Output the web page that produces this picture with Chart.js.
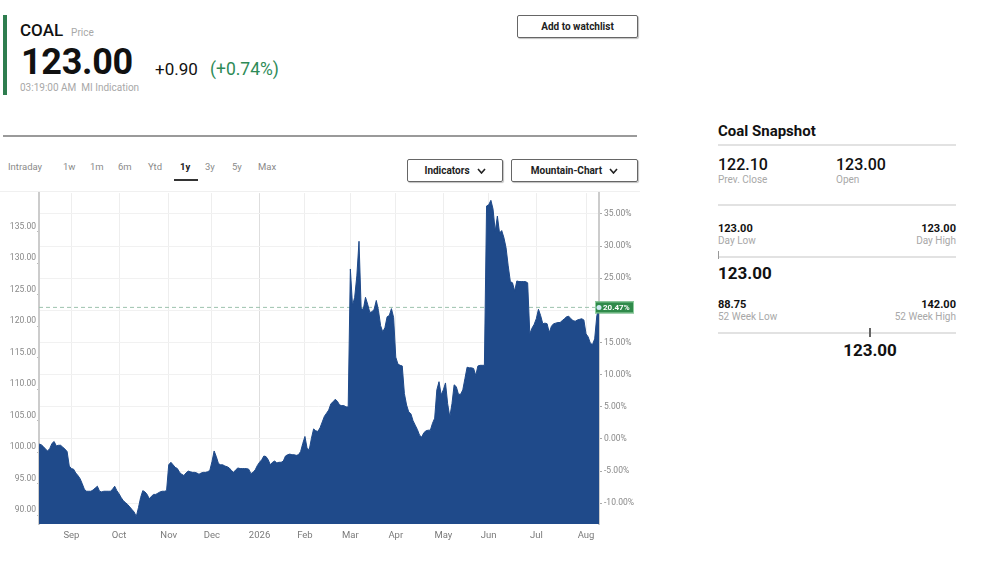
<!DOCTYPE html>
<html>
<head>
<meta charset="utf-8">
<script src="https://cdn.jsdelivr.net/npm/chart.js@4.4.1/dist/chart.umd.min.js"></script>
<style>
  body { margin: 0; background: #fff; font-family: Roboto, "Noto Sans", sans-serif; color: #111; }
  #page { position: relative; width: 995px; height: 572px; overflow: hidden; }
  .abs { position: absolute; white-space: nowrap; }
  .gray { color: #a8a8a8; }
  .btn { position: absolute; box-sizing: border-box; border: 1px solid #666; border-radius: 2px;
         box-shadow: 1px 1px 1px rgba(0,0,0,0.25); font-size: 10px; font-weight: 700; color: #222;
         display: flex; align-items: center; justify-content: center; }
  .btn svg { margin-left: 7px; }
  .tab { position: absolute; top: 161px; font-size: 9.5px; line-height: 12px; color: #8a8a8a; }
  .rule { position: absolute; background: #e2e2e2; height: 2px; }
  .num { font-size: 16px; line-height: 18px; font-weight: 500; }
  .small { font-size: 11px; line-height: 12px; font-weight: 700; }
  .lbl { font-size: 10px; line-height: 12px; color: #a8a8a8; }
  #chartBox { position: absolute; left: 0; top: 186px; width: 640px; height: 364px; }
</style>
</head>
<body>
<div id="page">
  <!-- header -->
  <div class="abs" style="left:3px;top:15px;width:4px;height:80px;background:#2e7d4f"></div>
  <div class="abs" style="left:20px;top:21px;font-size:17px;line-height:18px;font-weight:500">COAL<span class="gray" style="font-size:10px;font-weight:400;margin-left:8px">Price</span></div>
  <div class="abs" style="left:21px;top:44px;font-size:36px;line-height:36px;font-weight:700;letter-spacing:-0.3px">123.00</div>
  <div class="abs" style="left:155px;top:60px;font-size:17px;line-height:18px">+0.90</div>
  <div class="abs" style="left:210px;top:60px;font-size:17.5px;line-height:18px;color:#2e8b57">(+0.74%)</div>
  <div class="abs gray" style="left:20px;top:82px;font-size:10px;line-height:12px">03:19:00 AM&nbsp;&nbsp;MI Indication</div>
  <div class="btn" style="left:517px;top:15px;width:121px;height:23px">Add to watchlist</div>
  <div class="abs" style="left:3px;top:135px;width:634px;height:2px;background:#9a9a9a"></div>

  <!-- range tabs -->
  <div class="tab" style="left:8px">Intraday</div>
  <div class="tab" style="left:63px">1w</div>
  <div class="tab" style="left:90px">1m</div>
  <div class="tab" style="left:118px">6m</div>
  <div class="tab" style="left:148px">Ytd</div>
  <div class="tab" style="left:180px;color:#222;font-weight:700">1y</div>
  <div class="tab" style="left:205px">3y</div>
  <div class="tab" style="left:232px">5y</div>
  <div class="tab" style="left:258px">Max</div>
  <div class="abs" style="left:174px;top:179px;width:24px;height:2px;background:#333"></div>
  <div class="btn" style="left:407px;top:159px;width:96px;height:23px">Indicators<svg width="9" height="6" viewBox="0 0 9 6"><polyline points="1,1 4.5,5 8,1" fill="none" stroke="#222" stroke-width="1.6"/></svg></div>
  <div class="btn" style="left:511px;top:159px;width:127px;height:23px">Mountain-Chart<svg width="9" height="6" viewBox="0 0 9 6"><polyline points="1,1 4.5,5 8,1" fill="none" stroke="#222" stroke-width="1.6"/></svg></div>

  <!-- snapshot -->
  <div class="abs" style="left:718px;top:122px;font-size:15px;line-height:18px;font-weight:700">Coal Snapshot</div>
  <div class="rule" style="left:718px;top:144px;width:238px"></div>
  <div class="abs num" style="left:718px;top:156px">122.10</div>
  <div class="abs lbl" style="left:718px;top:174px">Prev. Close</div>
  <div class="abs num" style="left:836px;top:156px">123.00</div>
  <div class="abs lbl" style="left:836px;top:174px">Open</div>
  <div class="rule" style="left:718px;top:204px;width:238px"></div>
  <div class="abs small" style="left:718px;top:223px">123.00</div>
  <div class="abs lbl" style="left:718px;top:235px">Day Low</div>
  <div class="abs small" style="right:39px;top:223px">123.00</div>
  <div class="abs lbl" style="right:39px;top:235px">Day High</div>
  <div class="rule" style="left:718px;top:256px;width:238px"></div>
  <div class="abs" style="left:718px;top:251px;width:1px;height:8px;background:#999"></div>
  <div class="abs" style="left:718px;top:264px;font-size:17px;line-height:18px;font-weight:700">123.00</div>
  <div class="abs small" style="left:718px;top:299px">88.75</div>
  <div class="abs lbl" style="left:718px;top:311px">52 Week Low</div>
  <div class="abs small" style="right:39px;top:299px">142.00</div>
  <div class="abs lbl" style="right:39px;top:311px">52 Week High</div>
  <div class="rule" style="left:718px;top:332px;width:238px"></div>
  <div class="abs" style="left:869px;top:328px;width:2px;height:9px;background:#666"></div>
  <div class="abs" style="left:820px;top:341px;width:100px;text-align:center;font-size:17px;line-height:18px;font-weight:700">123.00</div>

  <div class="abs" style="left:0;top:191px;width:640px;height:1px;background:#f0f0f0"></div>
  <div id="chartBox"><canvas id="coalChart"></canvas></div>
</div>

<script>
// month groups (first group is the tail of Aug 2025, unlabelled)
var months = ['', 'Sep', 'Oct', 'Nov', 'Dec', '2026', 'Feb', 'Mar', 'Apr', 'May', 'Jun', 'Jul', 'Aug'];

// daily closes, per month
var aug25 = [101.3, 101.2, 100.9, 100.5, 100.2, 100.6, 101.4, 101.7, 101.0, 101.1, 101.1, 100.8, 100.5, 100.1, 97.8];
var sep25 = [97.4, 97.3, 96.7, 96.3, 95.8, 95.0, 94.1, 93.8, 93.8, 93.8, 94.0, 94.3, 94.6, 93.8, 93.7, 93.8, 93.8, 93.8, 93.8, 94.1, 94.6, 93.9];
var oct25 = [93.4, 92.8, 92.3, 92.0, 91.7, 91.3, 90.9, 90.5, 89.8, 91.2, 92.8, 93.9, 93.7, 93.3, 92.6, 93.0, 93.3, 93.3, 93.5, 93.7, 93.8, 93.8, 93.9];
var nov25 = [98.0, 98.4, 98.0, 97.6, 97.4, 96.8, 96.5, 96.3, 96.7, 97.0, 96.9, 96.8, 96.8, 96.7, 96.5, 96.7, 96.8, 96.8, 96.9, 97.1];
var dec25 = [98.5, 100.2, 99.3, 98.2, 98.0, 98.0, 97.8, 97.7, 97.5, 97.1, 96.8, 97.2, 97.5, 97.4, 97.4, 97.4, 97.4, 97.3, 96.6, 96.8, 97.2, 97.9];
var jan26 = [98.4, 98.8, 99.4, 99.3, 98.8, 98.0, 98.4, 98.6, 98.3, 98.4, 98.4, 98.6, 99.4, 99.6, 99.7, 99.6, 99.6, 99.5, 99.6, 100.1, 101.4];
var feb26 = [102.5, 100.6, 100.4, 102.2, 103.7, 103.4, 103.3, 103.9, 104.8, 105.7, 106.2, 106.7, 107.7, 108.0, 108.4, 108.1, 107.5, 107.4, 107.4, 107.2, 107.2];
var mar26 = [129.1, 123.3, 124.6, 128.0, 133.5, 122.8, 122.7, 124.6, 123.5, 122.2, 122.3, 122.7, 124.1, 122.5, 120.1, 119.1, 119.8, 121.5, 121.7, 122.8, 121.4];
var apr26 = [115.1, 114.0, 113.8, 113.7, 109.3, 107.5, 106.4, 106.1, 105.0, 104.3, 103.6, 102.7, 102.4, 103.1, 103.4, 103.5, 103.5, 104.6, 105.4, 109.9, 111.2, 109.1];
var may26 = [109.9, 111.0, 107.7, 105.6, 107.7, 110.7, 110.4, 109.2, 109.2, 109.9, 111.7, 113.5, 113.4, 113.4, 113.3, 112.2, 113.7, 113.8, 113.8, 113.8, 139.1];
var jun26 = [139.3, 140.0, 138.6, 135.1, 137.5, 134.8, 135.2, 134.1, 132.5, 129.6, 127.1, 126.9, 125.6, 127.2, 127.1, 127.1, 127.1, 127.1, 126.9, 118.8, 119.7, 120.3];
var jul26 = [121.2, 122.7, 121.7, 120.4, 120.5, 120.4, 119.0, 120.0, 120.4, 120.5, 120.6, 120.6, 120.9, 121.2, 121.5, 121.6, 121.2, 120.9, 120.8, 121.0, 121.1, 121.2, 121.0];
var aug26 = [118.8, 118.3, 117.3, 117.1, 118.0, 121.7, 123.0];

var monthPrices = [aug25, sep25, oct25, nov25, dec25, jan26, feb26, mar26, apr26, may26, jun26, jul26, aug26];

var priceTicks = [90, 95, 100, 105, 110, 115, 120, 125, 130, 135];
var pctTicks = [-10, -5, 0, 5, 10, 15, 20, 25, 30, 35];
var basePrice = 102.1;      // 0% reference of the right axis
var priceMin = 88.6;
var priceMax = 141.15;

var labels = [];
var prices = [];
monthPrices.forEach(function(list, m){
	list.forEach(function(v, k){
		labels.push(k === 0 ? months[m] : '');
		prices.push(v);
	});
});
var lastPrice = prices[prices.length - 1];

var toPct = function(p){ return (p / basePrice - 1) * 100; };

// dashed last-price line (behind the mountain) and green badge on the right axis
var lastPriceLine = {
	id: 'lastPriceLine',
	beforeDatasetsDraw: function(chart){
		var ctx = chart.ctx, area = chart.chartArea;
		var y = chart.scales.y.getPixelForValue(lastPrice);
		ctx.save();
		ctx.strokeStyle = '#9cc2ae';
		ctx.lineWidth = 1;
		ctx.setLineDash([4, 3]);
		ctx.beginPath();
		ctx.moveTo(area.left, y);
		ctx.lineTo(area.right, y);
		ctx.stroke();
		ctx.restore();
	},
	afterDraw: function(chart){
		var ctx = chart.ctx, area = chart.chartArea;
		var y = chart.scales.y.getPixelForValue(lastPrice);
		var txt = toPct(lastPrice).toFixed(2) + '%';
		ctx.save();
		ctx.fillStyle = '#2f8a4a';
		ctx.fillRect(area.right - 4, y - 6, 39, 12);
		ctx.strokeStyle = '#8fcf9f';
		ctx.lineWidth = 1;
		ctx.strokeRect(area.right - 3.5, y - 5.5, 38, 11);
		ctx.fillStyle = '#cfe9f3';
		ctx.beginPath();
		ctx.arc(area.right, y, 2.5, 0, Math.PI * 2);
		ctx.fill();
		ctx.fillStyle = '#fff';
		ctx.font = '700 8px Roboto, sans-serif';
		ctx.textAlign = 'left';
		ctx.textBaseline = 'middle';
		ctx.fillText(txt, area.right + 4, y + 0.5);
		ctx.restore();
	}
};

var tickFont = { family: 'Roboto, sans-serif', size: 8.5 };

window.coalChart = new Chart(document.getElementById('coalChart'), {
	type: 'line',
	data: {
		labels: labels,
		datasets: [
			{
				label: 'COAL',
				data: prices,
				yAxisID: 'y',
				borderColor: '#1f4a8a',
				backgroundColor: '#1f4a8a',
				borderWidth: 1,
				pointRadius: 0,
				tension: 0,
				fill: 'start'
			}
		]
	},
	options: {
		responsive: true,
		maintainAspectRatio: false,
		animation: false,
		layout: { padding: { top: 5, left: 0, right: 0, bottom: 0 } },
		plugins: {
			legend: { display: false },
			tooltip: { enabled: false }
		},
		scales: {
			x: {
				type: 'category',
				offset: false,
				afterFit: function(s){ s.height = 26; },
				border: { display: false },
				grid: {
					drawTicks: false,
					color: function(c){
						var l = labels[c.index];
						if(!l) return 'rgba(0,0,0,0)';
						return l === '2026' ? '#dedede' : '#eeeeee';
					}
				},
				ticks: {
					autoSkip: false,
					maxRotation: 0,
					padding: 6,
					color: '#7a7a7a',
					font: { family: 'Roboto, sans-serif', size: 9.5 },
					callback: function(v, i){ return labels[i]; }
				}
			},
			y: {
				position: 'left',
				min: priceMin,
				max: priceMax,
				afterBuildTicks: function(s){ s.ticks = priceTicks.map(function(v){ return { value: v }; }); },
				afterFit: function(s){ s.width = 39; },
				border: { display: true, color: '#cccccc', width: 2 },
				grid: { display: true, drawOnChartArea: false, drawTicks: true, tickLength: 2, tickColor: '#bbb', color: 'rgba(0,0,0,0)' },
				ticks: {
					padding: 1,
					labelOffset: -5,
					color: '#888',
					font: tickFont,
					callback: function(v){ return v.toFixed(2); }
				}
			},
			y1: {
				position: 'right',
				min: toPct(priceMin),
				max: toPct(priceMax),
				afterBuildTicks: function(s){ s.ticks = pctTicks.map(function(v){ return { value: v }; }); },
				afterFit: function(s){ s.width = 41; },
				border: { display: true, color: '#cccccc', width: 2 },
				grid: { color: '#f1f1f1', drawTicks: true, tickLength: 3, tickColor: '#aaa' },
				ticks: {
					padding: 2,
					color: '#888',
					font: tickFont,
					callback: function(v){ return v.toFixed(2) + '%'; }
				}
			}
		}
	},
	plugins: [lastPriceLine]
});
</script>
</body>
</html>
